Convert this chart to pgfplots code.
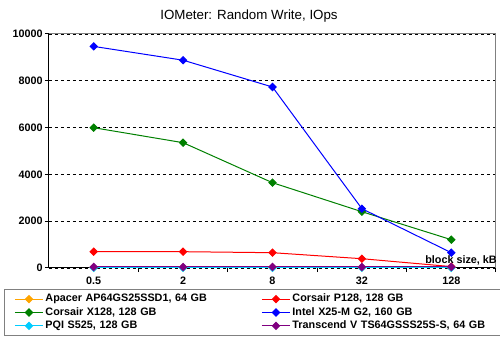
\documentclass[border=0pt]{standalone}
\usepackage{fontspec}
\setmainfont{Liberation Sans}
\usepackage{pgfplots}
\pgfplotsset{compat=1.18}
\definecolor{cApacer}{RGB}{255,165,0}
\definecolor{cP}{RGB}{255,0,0}
\definecolor{cX}{RGB}{0,128,0}
\definecolor{cIntel}{RGB}{0,0,255}
\definecolor{cPQI}{RGB}{0,204,255}
\definecolor{cTr}{RGB}{128,0,128}
\begin{document}
\begin{tikzpicture}
\useasboundingbox (-36.75pt,-58.5pt) rectangle (338.25pt,201pt);
\begin{axis}[
  at={(0pt,0pt)}, anchor=south west,
  scale only axis, width=335.25pt, height=175.5pt,
  xmin=-0.5, xmax=4.5, ymin=0, ymax=10000,
  axis x line=bottom, axis y line=left,
  axis line style={-, black, line width=0.75pt},
  xtick={0,1,2,3,4}, xticklabels={0.5,2,8,32,128},
  minor xtick={0.5,1.5,2.5,3.5,4.5},
  major x tick style={draw=none},
  minor x tick style={black, line width=0.75pt},
  minor tick length=3pt,
  ytick={0,2000,4000,6000,8000,10000},
  yticklabels={0,2000,4000,6000,8000,10000},
  major y tick style={black, line width=0.75pt},
  major tick length=3pt,
  tick align=outside,
  ymajorgrids,
  major grid style={black, line width=0.6pt, dash pattern=on 2.25pt off 2.25pt},
  tick label style={font=\fontsize{8.1}{9.5}\selectfont\bfseries},
  yticklabel style={inner xsep=1.5pt},
  xticklabel style={yshift=-0.5pt},
  scaled y ticks=false,
  every axis plot/.append style={line width=0.75pt, mark=square*, mark size=1.9pt, mark options={solid, rotate=45}},
  legend columns=2,
  legend cell align=left,
  legend image code/.code={\draw[mark repeat=2,mark phase=2] plot coordinates {(0pt,0pt)(10.5pt,0pt)(21pt,0pt)};},
  legend style={at={(axis description cs:-0.1007,-0.0897)}, anchor=north west,
    draw=gray, line width=0.75pt, inner xsep=7.5pt, inner ysep=2.25pt,
    font=\fontsize{8.1}{9.5}\selectfont\bfseries,
    nodes={text width=148pt, text height=6pt, text depth=2pt, inner xsep=1.5pt, inner ysep=1pt},
    /tikz/every even column/.append style={column sep=12.5pt},
    row sep=0pt},
]
\addplot[color=cApacer] coordinates {(0,20) (1,20) (2,20) (3,20) (4,20)};
\addlegendentry{Apacer AP64GS25SSD1, 64 GB}
\addplot[color=cP] coordinates {(0,697) (1,697) (2,654) (3,397) (4,60)};
\addlegendentry{Corsair P128, 128 GB}
\addplot[color=cX] coordinates {(0,5996) (1,5355) (2,3645) (3,2406) (4,1210)};
\addlegendentry{Corsair X128, 128 GB}
\addplot[color=cIntel] coordinates {(0,9470) (1,8880) (2,7735) (3,2534) (4,654)};
\addlegendentry{Intel X25-M G2, 160 GB}
\addplot[color=cPQI] coordinates {(0,8) (1,8) (2,8) (3,8) (4,8)};
\addlegendentry{PQI S525, 128 GB}
\addplot[color=cTr] coordinates {(0,45) (1,45) (2,45) (3,45) (4,45)};
\addlegendentry{Transcend V TS64GSSS25S-S, 64 GB}
\draw[gray, line width=0.75pt] (rel axis cs:0,1) -- (rel axis cs:1,1) -- (rel axis cs:1,0);
\end{axis}
\node[anchor=base, inner sep=0pt, font=\fontsize{10}{12}\selectfont] at (150pt,186.4pt) {IOMeter: Random Write, IOps};
\node[anchor=base east, inner sep=0pt, font=\fontsize{8.1}{9.5}\selectfont\bfseries] at (336pt,3pt) {block size, kB};
\end{tikzpicture}
\end{document}
